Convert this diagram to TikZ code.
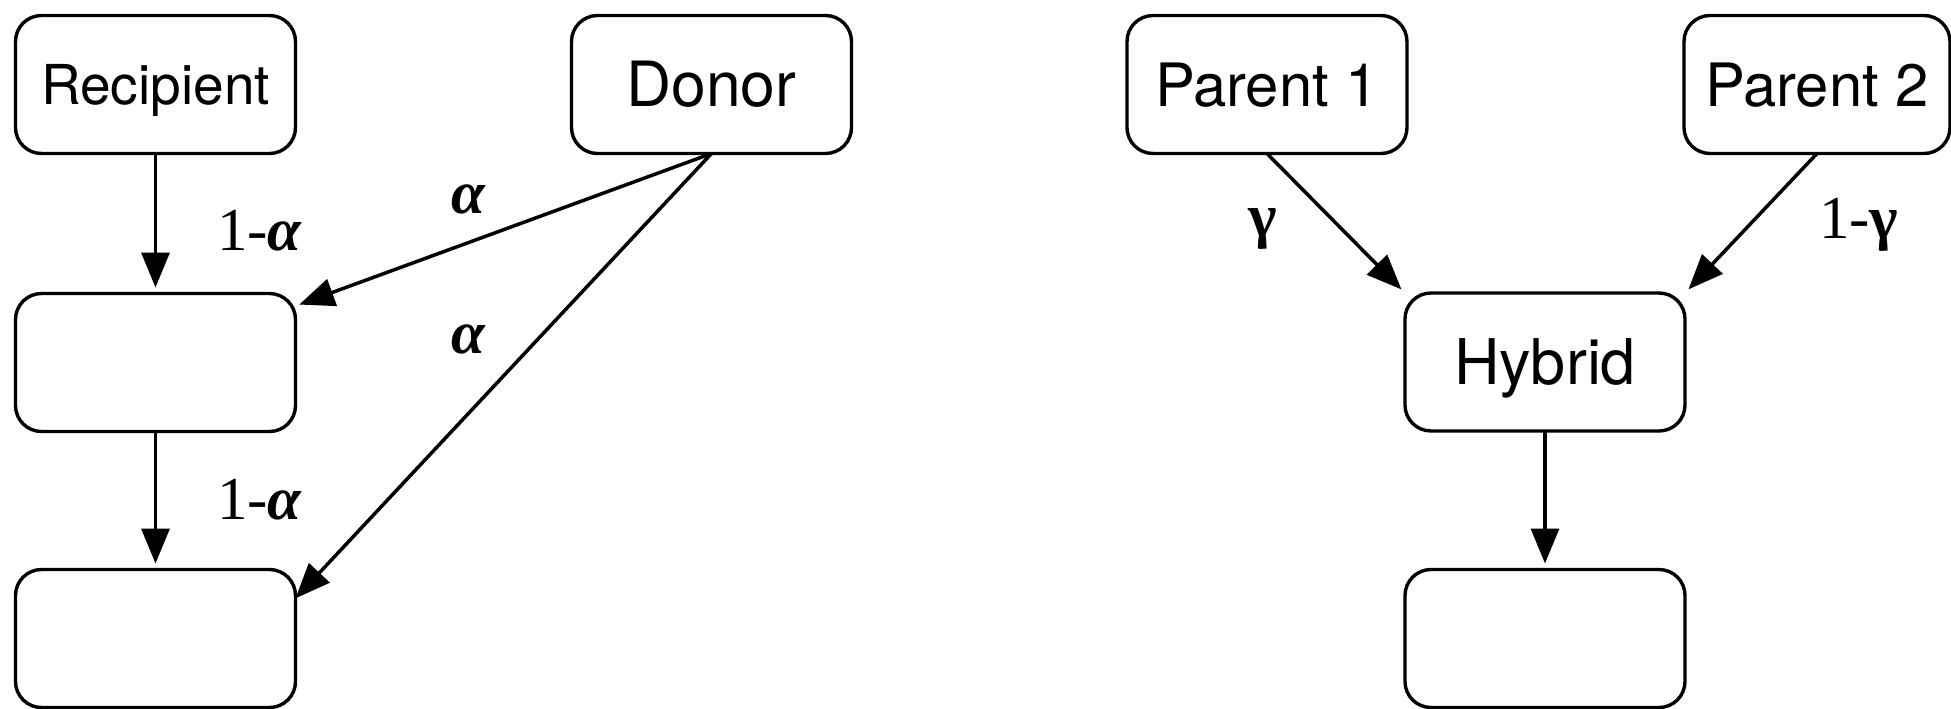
\documentclass[tikz,border=0pt]{standalone}
\usepackage{fontspec}
\setmainfont{TeX Gyre Heros}
\newfontfamily\weightfont{Liberation Serif}
\usetikzlibrary{arrows.meta}
\begin{document}
\begin{tikzpicture}[x=0.5pt,y=-0.5pt,
  box/.style={draw, line width=1.7pt, rounded corners=13pt,
    minimum width=140pt, minimum height=69pt,
    inner sep=0pt, outer sep=0pt, text depth=0pt},
  flow/.style={line width=1.75pt, -{Triangle[length=17.5pt,width=14pt]}},
  weight/.style={anchor=base west, inner sep=0pt, outer sep=0pt,
    font=\weightfont\fontsize{30.5pt}{31pt}\selectfont}]
\useasboundingbox (0,0) rectangle (1951,708);

% left: recipient / donor lineage
\node[box, font=\fontsize{27.5pt}{29pt}\selectfont, text height=19.8pt] (rec) at (155.5,84.5) {Recipient};
\node[box, font=\fontsize{31.2pt}{33pt}\selectfont, text height=22.4pt] (don) at (711.5,84.5) {Donor};
\node[box] (mid) at (155.5,362.5) {};
\node[box] (bot) at (155.5,638.5) {};

\draw[flow, shorten >=3pt] (rec.south) -- (mid.north);
\draw[flow, shorten >=3pt] (mid.south) -- (bot.north);
\draw[flow, shorten >=2pt] (don.south) -- (mid.22);
\draw[flow] (don.south) -- (bot.16);

\node[weight] (w1) at (217,250) {1-{\bfseries\itshape α}};
\node[weight] (w2) at (217,519) {1-{\bfseries\itshape α}};
\node[weight] (w3) at (451,213) {{\bfseries\itshape α}};
\node[weight] (w4) at (451,353) {{\bfseries\itshape α}};

% right: hybridisation of two parents
\node[box, font=\fontsize{29.9pt}{31pt}\selectfont, text height=21.5pt] (pa) at (1267,84.5) {Parent 1};
\node[box, minimum width=133pt, font=\fontsize{29.9pt}{31pt}\selectfont, text height=21.5pt] (pb) at (1817,84.5) {Parent 2};
\node[box, font=\fontsize{31.5pt}{33pt}\selectfont, text height=22.7pt] (hyb) at (1545,362) {Hybrid};
\node[box] (hbot) at (1545,638.5) {};

\draw[flow, shorten >=2.5pt] (pa.south) -- (hyb.north west);
\draw[flow, shorten >=2.5pt] (pb.south) -- (hyb.north east);
\draw[flow, shorten >=3pt] (hyb.south) -- (hbot.north);

\node[weight] (w5) at (1248,236) {{\bfseries γ}};
\node[weight] (w6) at (1819,238) {1-{\bfseries γ}};
\end{tikzpicture}
\end{document}
